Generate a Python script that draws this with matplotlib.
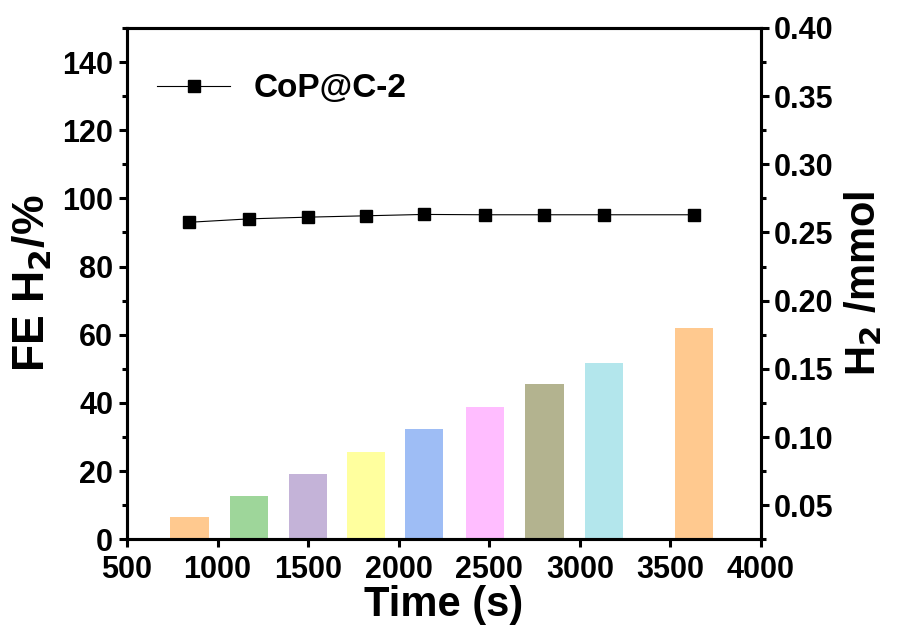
import numpy as np
import matplotlib
matplotlib.use('Agg')
import matplotlib.pyplot as plt
from matplotlib.ticker import MultipleLocator

plt.rcParams['font.family'] = ['Liberation Sans', 'DejaVu Sans']
plt.rcParams['font.weight'] = 'bold'
plt.rcParams['mathtext.default'] = 'bf'

# sampling times (s)
time_s = [845, 1175, 1500, 1820, 2140, 2475, 2805, 3135, 3630]
# Faradaic efficiency of H2 (%)
fe_h2 = [93.0, 94.0, 94.5, 94.9, 95.3, 95.2, 95.2, 95.2, 95.2]
# accumulated H2 (mmol)
h2_mmol = [0.041, 0.057, 0.073, 0.089, 0.106, 0.122, 0.139, 0.154, 0.180]
bar_colors = ['#FFC98F', '#9ED69A', '#C4B3D8', '#FFFF9E', '#9EBDF5',
              '#FFBDFF', '#B3B38F', '#B3E6EC', '#FFC98F']

fig = plt.figure(figsize=(9.03, 6.3), dpi=100)
ax = fig.add_axes([0.1406, 0.144, 0.7021, 0.8116])
ax2 = ax.twinx()

# bars on the H2 axis, behind the FE curve
ax2.bar(time_s, h2_mmol, width=212, color=bar_colors, zorder=1)
ax2.set_ylim(0.025, 0.40)
ax2.yaxis.set_minor_locator(MultipleLocator(0.025))
ax2.set_yticks(np.arange(0.05, 0.401, 0.05))
ax2.set_yticklabels(['%.2f' % v for v in np.arange(0.05, 0.401, 0.05)])
ax2.set_ylabel('H$_2$ /mmol', fontsize=30, fontweight='bold', labelpad=6)

ax.set_zorder(ax2.get_zorder() + 1)
ax.patch.set_visible(False)
ax.plot(time_s, fe_h2, '-s', color='black', lw=0.8, ms=8,
        label='CoP@C-2')
ax.set_xlim(500, 4000)
ax.set_ylim(0, 150)
ax.xaxis.set_major_locator(MultipleLocator(500))
ax.yaxis.set_minor_locator(MultipleLocator(10))
ax.set_yticks(np.arange(0, 141, 20))
ax.set_xlabel('Time (s)', fontsize=30, fontweight='bold', labelpad=0)
ax.set_ylabel('FE H$_2$/%', fontsize=32, fontweight='bold', labelpad=6)

for a in (ax, ax2):
    for sp in a.spines.values():
        sp.set_linewidth(2.2)
    a.tick_params(which='major', direction='out', length=6, width=2.2,
                  labelsize=22)
    a.tick_params(which='minor', direction='out', length=3.5, width=2.2)
ax.tick_params(axis='x', pad=5)
ax.tick_params(axis='y', which='both', right=False, pad=4)

ax.legend(loc='upper left', frameon=False, fontsize=24,
          bbox_to_anchor=(0.0, 0.97), handlelength=2.2, handletextpad=0.7)

fig.savefig('out.png', dpi=100)
